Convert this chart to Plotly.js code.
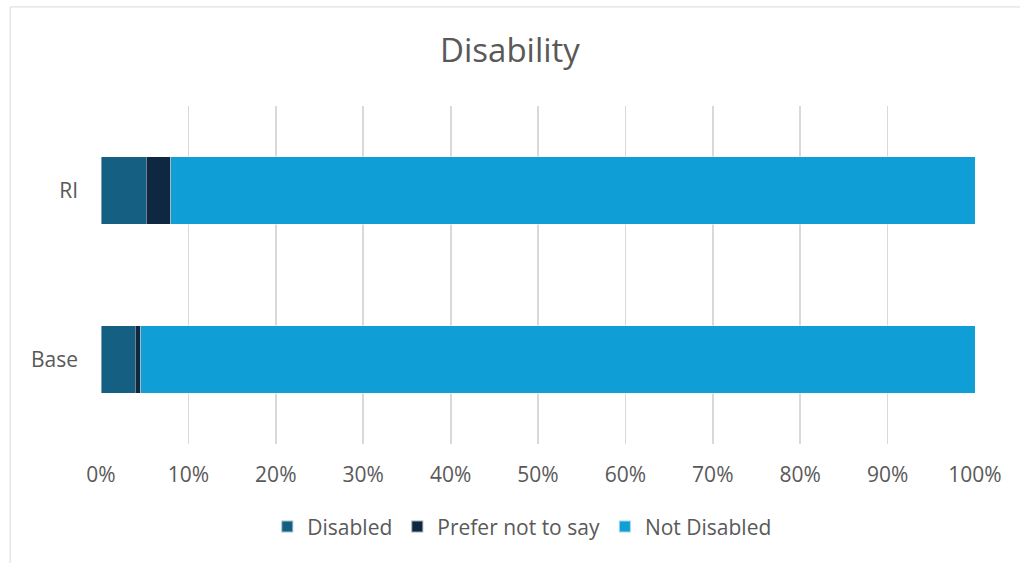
<!DOCTYPE html>
<html><head><meta charset="utf-8">
<script src="https://cdn.plot.ly/plotly-3.0.1.min.js"></script>
<style>html,body{margin:0;padding:0;background:#fff;}#chart{width:1020px;height:563px;}</style>
</head><body><div id="chart"></div>
<script>
const categories = ["Base", "RI"];
const seriesNames = ["Disabled", "Prefer not to say", "Not Disabled"];
const disabled = [3.9, 5.2];
const preferNot = [0.65, 2.8];
const notDisabled = [95.45, 92.0];
const colors = ["#156082", "#0E2841", "#0F9ED5"];
const xTicks = [0,10,20,30,40,50,60,70,80,90,100];
const xTickText = xTicks.map(v => v + "%");

const values = [disabled, preferNot, notDisabled];
const traces = values.map((vals, i) => ({
  type: "bar", orientation: "h", name: seriesNames[i],
  y: categories, x: vals,
  marker: {color: colors[i], line: {color: "rgba(255,255,255,0.6)", width: 0.7}},
  hoverinfo: "skip"
}));

const font = "'Open Sans', Roboto, sans-serif";
const layout = {
  width: 1020, height: 563,
  margin: {l: 101, r: 45, t: 106, b: 119},
  paper_bgcolor: "#fff", plot_bgcolor: "#fff",
  barmode: "stack", bargap: 0.6,
  font: {family: font, color: "#595959", size: 21},
  title: {text: "Disability", font: {family: font, size: 33, color: "#595959"}, x: 0.5, xanchor: "center", y: 0.911, yanchor: "middle"},
  xaxis: {range: [0, 100], tickvals: xTicks, ticktext: xTickText, showgrid: true, gridcolor: "#d9d9d9", gridwidth: 1.8,
          zeroline: false, showline: false, ticks: "", ticklabelstandoff: 16, tickfont: {size: 21, color: "#595959"}, fixedrange: true},
  yaxis: {type: "category", categoryorder: "array", categoryarray: categories, showgrid: false, zeroline: false, showline: false,
          ticks: "", ticklabelstandoff: 22, tickfont: {size: 21, color: "#595959"}, fixedrange: true},
  legend: {orientation: "h", x: 0.482, xanchor: "center", y: -0.245, yanchor: "middle", font: {size: 21, color: "#595959"},
           traceorder: "normal", itemwidth: 30, itemsizing: "constant"},
  shapes: [{type: "rect", xref: "paper", yref: "paper", x0: -0.104, x1: 1.2, y0: -0.5, y1: 1.293,
            line: {color: "#d9d9d9", width: 1}, fillcolor: "rgba(0,0,0,0)", layer: "below"}],
  showlegend: true
};
Plotly.newPlot("chart", traces, layout, {displayModeBar: false, staticPlot: true});
</script></body></html>
